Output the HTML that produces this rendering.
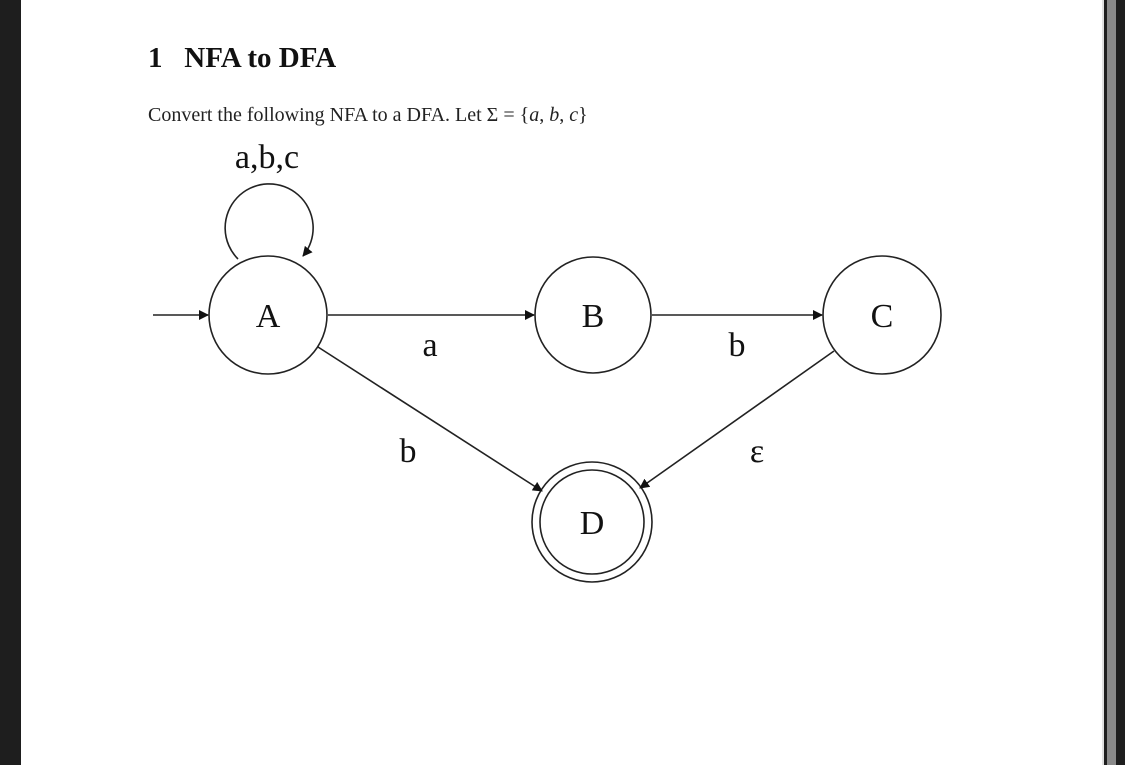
<!DOCTYPE html>
<html><head><style>
body{margin:0;width:1125px;height:765px;overflow:hidden;background:#fff;position:relative;font-family:"Liberation Serif",serif}
.l{position:absolute;left:0;top:0;width:21px;height:765px;background:#1e1e1e}
.r1{position:absolute;left:1102px;top:0;width:2px;height:765px;background:#e0e0e0}
.r2{position:absolute;left:1104px;top:0;width:3px;height:765px;background:#1e1e1e}
.r3{position:absolute;left:1107px;top:0;width:9px;height:765px;background:#8a8a8a}
.r4{position:absolute;left:1116px;top:0;width:9px;height:765px;background:#1e1e1e}
h1{position:absolute;left:148px;top:42px;margin:0;font-size:29px;font-weight:bold;color:#111}
p{position:absolute;left:148px;top:104px;margin:0;font-size:20px;color:#222}
</style></head><body>
<div class="l"></div><div class="r1"></div><div class="r2"></div><div class="r3"></div><div class="r4"></div>
<h1>1&nbsp;&nbsp;&nbsp;NFA to DFA</h1>
<p>Convert the following NFA to a DFA. Let Σ = {<i>a</i>, <i>b</i>, <i>c</i>}</p>
<svg width="1125" height="765" style="position:absolute;left:0;top:0" font-family="Liberation Serif" fill="none" stroke="#222" stroke-width="1.6">
<defs><marker id="m" markerWidth="10" markerHeight="10" refX="9" refY="5" orient="auto" markerUnits="userSpaceOnUse" viewBox="0 0 10 10"><path d="M0,0L10,5L0,10z" fill="#111" stroke="none"/></marker></defs>
<circle cx="268" cy="315" r="59"/>
<circle cx="593" cy="315" r="58"/>
<circle cx="882" cy="315" r="59"/>
<circle cx="592" cy="522" r="60"/>
<circle cx="592" cy="522" r="52"/>
<path d="M238,261 A44,44 0 1 1 303,258" marker-end="url(#m)" transform="translate(0,-2)"/>
<line x1="153" y1="315" x2="208" y2="315" marker-end="url(#m)"/>
<line x1="328" y1="315" x2="534" y2="315" marker-end="url(#m)"/>
<line x1="652" y1="315" x2="822" y2="315" marker-end="url(#m)"/>
<line x1="318" y1="347" x2="542" y2="491" marker-end="url(#m)"/>
<line x1="834" y1="351" x2="640" y2="488" marker-end="url(#m)"/>
<g fill="#111" stroke="none" font-size="34" text-anchor="middle">
<text x="268" y="327">A</text><text x="593" y="327">B</text><text x="882" y="327">C</text><text x="592" y="534">D</text>
<text x="267" y="168">a,b,c</text>
<text x="430" y="356">a</text><text x="737" y="356">b</text><text x="408" y="462">b</text><text x="757" y="462">ε</text>
</g>
</svg>
</body></html>
